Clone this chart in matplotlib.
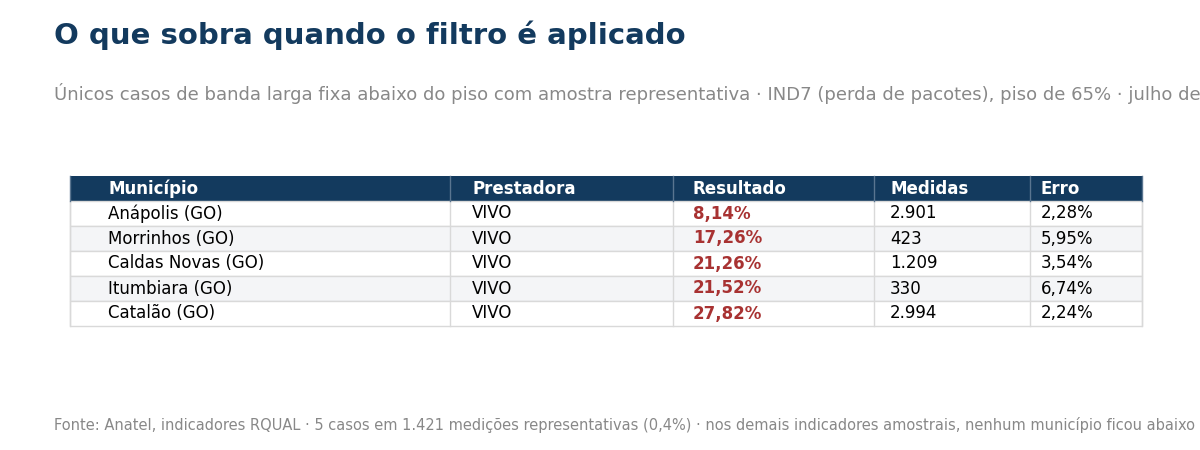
import matplotlib
matplotlib.use("Agg")
import matplotlib.pyplot as plt
from matplotlib.patches import Rectangle

headers = ["Município", "Prestadora", "Resultado", "Medidas", "Erro"]
municipios = ["Anápolis (GO)", "Morrinhos (GO)", "Caldas Novas (GO)", "Itumbiara (GO)", "Catalão (GO)"]
prestadoras = ["VIVO", "VIVO", "VIVO", "VIVO", "VIVO"]
resultados = ["8,14%", "17,26%", "21,26%", "21,52%", "27,82%"]
medidas = ["2.901", "423", "1.209", "330", "2.994"]
erros = ["2,28%", "5,95%", "3,54%", "6,74%", "2,24%"]

NAVY = "#133a5e"; RED = "#a83232"; GRID = "#d9d9d9"
fig = plt.figure(figsize=(12, 4.5), dpi=100)
ax = fig.add_axes([0, 0, 1, 1])
ax.set_xlim(0, 1200); ax.set_ylim(450, 0); ax.axis("off")

ax.text(54, 35, "O que sobra quando o filtro é aplicado", fontsize=21, fontweight="bold", color=NAVY, va="center")
ax.text(54, 93, "Únicos casos de banda larga fixa abaixo do piso com amostra representativa · IND7 (perda de pacotes), piso de 65% · julho de 2025",
        fontsize=13, color="#888888", va="center")
ax.text(54, 425, "Fonte: Anatel, indicadores RQUAL · 5 casos em 1.421 medições representativas (0,4%) · nos demais indicadores amostrais, nenhum município ficou abaixo do piso",
        fontsize=10.5, color="#888888", va="center")

edges = [70, 450, 673, 874, 1030, 1142]
tx = [108, 472, 693, 890, 1041]
top, rh = 176, 25
cols = [municipios, prestadoras, resultados, medidas, erros]
n = len(municipios)
ax.add_patch(Rectangle((edges[0], top), edges[-1]-edges[0], rh, color=NAVY, lw=0))
for i in range(n):
    y = top + rh*(i+1)
    ax.add_patch(Rectangle((edges[0], y), edges[-1]-edges[0], rh,
                           facecolor="#f4f5f7" if i % 2 else "white", edgecolor=GRID, lw=1))
for e in edges:
    ax.plot([e, e], [top + rh, top + rh*(n+1)], color=GRID, lw=1)
    ax.plot([e, e], [top, top + rh], color="#5a7590", lw=1)
for j, h in enumerate(headers):
    ax.text(tx[j], top + rh/2, h, fontsize=12, fontweight="bold", color="white", va="center")
for i in range(n):
    for j in range(5):
        red = j == 2
        ax.text(tx[j], top + rh*(i+1.5), cols[j][i], fontsize=12, va="center",
                color=RED if red else "black", fontweight="bold" if red else "normal")
fig.savefig("out.png")
